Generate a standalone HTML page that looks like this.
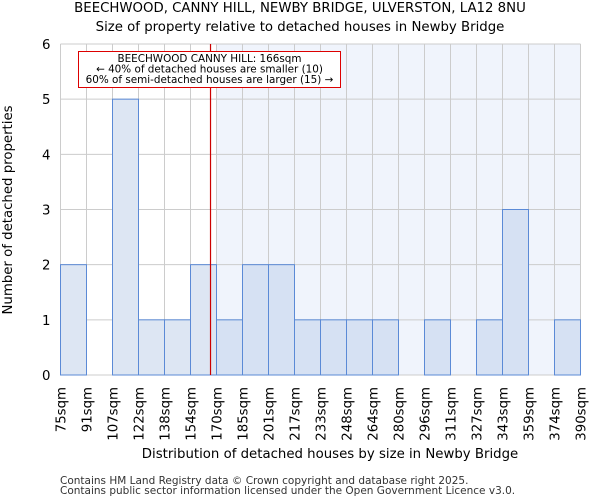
<!DOCTYPE html>
<html><head><meta charset="utf-8"><style>
body{margin:0;background:#fff;font-family:"DejaVu Sans","Liberation Sans",sans-serif;}
svg text{font-family:"DejaVu Sans","Liberation Sans",sans-serif;}
</style></head><body>
<svg id="chart" width="600" height="500" xmlns="http://www.w3.org/2000/svg">
<text x="300" y="12" text-anchor="middle" font-size="13.3">BEECHWOOD, CANNY HILL, NEWBY BRIDGE, ULVERSTON, LA12 8NU</text>
<text x="300" y="31" text-anchor="middle" font-size="13.3">Size of property relative to detached houses in Newby Bridge</text>
<g id="plot"></g>
<text x="330" y="458" text-anchor="middle" font-size="13.3">Distribution of detached houses by size in Newby Bridge</text>
<text transform="translate(12,210) rotate(-90)" text-anchor="middle" font-size="13.3">Number of detached properties</text>
<text x="60" y="484" font-size="10.5" fill="#333">Contains HM Land Registry data © Crown copyright and database right 2025.</text>
<text x="60" y="494" font-size="10.5" fill="#333">Contains public sector information licensed under the Open Government Licence v3.0.</text>
</svg>
<script>
const categories=["75sqm","91sqm","107sqm","122sqm","138sqm","154sqm","170sqm","185sqm","201sqm","217sqm","233sqm","248sqm","264sqm","280sqm","296sqm","311sqm","327sqm","343sqm","359sqm","374sqm","390sqm"];
const counts=[2,0,5,1,1,2,1,2,2,1,1,1,1,0,1,0,1,3,0,1];
const yTicks=[0,1,2,3,4,5,6];
const markerIndex=5.77;
const NS="http://www.w3.org/2000/svg";
const X0=60.5,BW=26,Y0=375,YT=44,YMAX=6;
const xs=i=>X0+i*BW;
const ys=v=>Y0-(Y0-YT)*v/YMAX;
const g=document.getElementById('plot');
function el(t,a){const e=document.createElementNS(NS,t);for(const k in a)e.setAttribute(k,a[k]);g.appendChild(e);return e;}
const W=counts.length*BW;
const hx=xs(Math.ceil(markerIndex));
let r=el('rect',{x:hx,y:YT,width:xs(counts.length)-hx,height:Y0-YT,fill:'#f0f4fc'});


for(let i=0;i<=counts.length;i++){let l=el('line',{x1:xs(i),x2:xs(i),y1:YT,y2:Y0,stroke:'#cccccc','stroke-width':1});

}
yTicks.forEach(v=>{let l=el('line',{x1:X0,x2:X0+W,y1:ys(v),y2:ys(v),stroke:'#cccccc','stroke-width':1});


let t=el('text',{x:X0-10,y:ys(v)+5,'text-anchor':'end','font-size':13.3});t.textContent=v;

});
counts.forEach((c,i)=>{if(!c)return;let b=el('rect',{x:xs(i),y:ys(c),width:BW,height:Y0-ys(c),fill:i>=Math.ceil(markerIndex)?'#d6e1f3':'#dde6f3',stroke:'#5b8ad6','stroke-width':1});

});
categories.forEach((c,i)=>{let t=el('text',{transform:`translate(${xs(i)+5},${Y0+12}) rotate(-90)`,'text-anchor':'end','font-size':13.3});t.textContent=c;

});
let m=el('line',{x1:xs(markerIndex),x2:xs(markerIndex),y1:YT,y2:Y0,stroke:'#cc0000','stroke-width':1.2});


let bx=el('rect',{x:78.5,y:51.5,width:262,height:36,fill:'#fff',stroke:'#dd0000','stroke-width':1});


["BEECHWOOD CANNY HILL: 166sqm","← 40% of detached houses are smaller (10)","60% of semi-detached houses are larger (15) →"].forEach((s,k)=>{let t=el('text',{x:209.5,y:62+k*10.5,'text-anchor':'middle','font-size':10.4});t.textContent=s;

});
</script>
</body></html>
